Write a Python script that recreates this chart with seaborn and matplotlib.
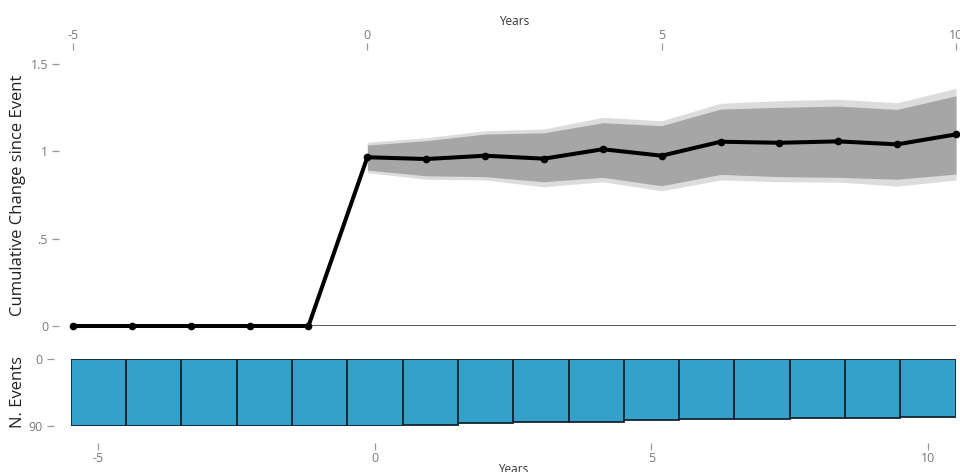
import matplotlib
matplotlib.use("Agg")
import matplotlib.pyplot as plt
import numpy as np
import pandas as pd
import seaborn as sns

# Years relative to the event
years = [-5, -4, -3, -2, -1, 0, 1, 2, 3, 4, 5, 6, 7, 8, 9, 10]

# Cumulative change estimate per year
estimate = [0, 0, 0, 0, 0, 0.966, 0.956, 0.975, 0.958, 1.012, 0.975,
            1.055, 1.049, 1.057, 1.040, 1.097]

# Confidence bands (post-event years only)
band_years = [0, 1, 2, 3, 4, 5, 6, 7, 8, 9, 10]
outer_hi = [1.052, 1.078, 1.118, 1.128, 1.195, 1.175, 1.275, 1.290, 1.298, 1.278, 1.361]
outer_lo = [0.878, 0.840, 0.836, 0.797, 0.826, 0.774, 0.836, 0.826, 0.824, 0.801, 0.836]
inner_hi = [1.036, 1.061, 1.099, 1.106, 1.164, 1.147, 1.242, 1.252, 1.259, 1.240, 1.318]
inner_lo = [0.893, 0.860, 0.855, 0.826, 0.851, 0.803, 0.868, 0.855, 0.851, 0.840, 0.870]

# Number of events contributing to each year
n_events = [90, 90, 90, 90, 90, 90, 88, 86, 85, 84, 82, 80, 80, 79, 79, 78]

y_ticks = [0, 0.5, 1, 1.5]
y_tick_labels = ["0", ".5", "1", "1.5"]
x_ticks = [-5, 0, 5, 10]
ev_ticks = [0, 90]

sns.set_theme(style="white")
plt.rcParams["font.family"] = ["Open Sans", "DejaVu Sans"]

TICK_COLOR = "#9a9a9a"
LABEL_COLOR = "#7a7a7a"

fig = plt.figure(figsize=(9.6, 4.72), dpi=100)
W, H = 960.0, 472.0
ax1 = fig.add_axes([73 / W, 1 - 326 / H, (956 - 73) / W, (326 - 64) / H])
ax2 = fig.add_axes([70.7 / W, 1 - 426 / H, 885 / W, 67 / H])

# --- upper panel: cumulative change with bands ---
ax1.fill_between(band_years, outer_lo, outer_hi, color="#dcdcdc", lw=0, zorder=1)
ax1.fill_between(band_years, inner_lo, inner_hi, color="#a6a6a6", lw=0, zorder=2)
ax1.axhline(0, color="#3a3a3a", lw=1.2, zorder=3)

df = pd.DataFrame({"Years": years, "Estimate": estimate})
sns.lineplot(data=df, x="Years", y="Estimate", ax=ax1, color="black",
             lw=2.9, marker="o", markersize=5.5, markeredgewidth=0,
             zorder=5, clip_on=False)

ax1.set_xlim(-5, 10)
ax1.set_ylim(0, 1.5)
ax1.set_yticks(y_ticks)
ax1.set_yticklabels(y_tick_labels)
ax1.set_xticks(x_ticks)
ax1.set_xticklabels([str(t) for t in x_ticks])
ax1.xaxis.tick_top()
ax1.xaxis.set_label_position("top")
for s in ["left", "top"]:
    ax1.spines[s].set_position(("outward", 10))
for s in ax1.spines.values():
    s.set_visible(False)
ax1.tick_params(axis="both", length=5, width=0.9, color=TICK_COLOR,
                labelcolor=LABEL_COLOR, labelsize=9)
ax1.tick_params(axis="x", pad=1, top=True, bottom=False)
ax1.tick_params(axis="y", pad=3, left=True)
ax1.set_xlabel("Years", fontsize=8.5, color="#333333", labelpad=3)
ax1.set_ylabel("Cumulative Change since Event", fontsize=12, color="#222222")
ax1.yaxis.set_label_coords(-0.053, 0.5)
ax1.grid(False)

# --- lower panel: number of events ---
ev = pd.DataFrame({"Years": years, "Events": n_events})
sns.barplot(data=ev, x="Years", y="Events", ax=ax2, native_scale=True,
            orient="x", width=1.0, color="#33a1c9", saturation=1,
            edgecolor="#13262f", linewidth=1.3, errorbar=None)
ax2.set_xlim(-5.5, 10.5)
ax2.set_ylim(90, 0)
ax2.set_yticks(ev_ticks)
ax2.set_yticklabels([str(t) for t in ev_ticks])
ax2.set_xticks(x_ticks)
ax2.set_xticklabels([str(t) for t in x_ticks])
for s in ["left", "bottom"]:
    ax2.spines[s].set_position(("outward", 12))
for s in ax2.spines.values():
    s.set_visible(False)
ax2.tick_params(axis="both", length=5, width=0.9, color=TICK_COLOR,
                labelcolor=LABEL_COLOR, labelsize=9)
ax2.tick_params(axis="x", pad=2, bottom=True)
ax2.tick_params(axis="y", pad=3, left=True)
ax2.set_xlabel("Years", fontsize=8.5, color="#333333", labelpad=-2)
ax2.set_ylabel("N. Events", fontsize=12, color="#222222")
ax2.yaxis.set_label_coords(-0.0505, 0.5)
ax2.grid(False)

fig.savefig("out.png", dpi=100)
